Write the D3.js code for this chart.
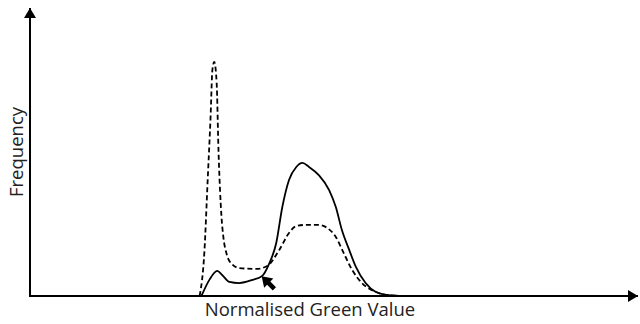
<!DOCTYPE html>
<html>
<head>
<meta charset="utf-8">
<script src="https://cdn.jsdelivr.net/npm/d3@7"></script>
<style>
  body { margin: 0; background: #fff; }
  text { font-family: "Open Sans", sans-serif; fill: #222; }
</style>
</head>
<body>
<div id="chart"></div>
<script>
// normalised green value (0..1) and frequency (0..1)
var dashedX = [0.279, 0.287, 0.292, 0.297, 0.300, 0.303, 0.307, 0.310, 0.315, 0.318, 0.323, 0.331, 0.344, 0.372, 0.390, 0.410, 0.426, 0.438, 0.454, 0.475, 0.489, 0.503, 0.516, 0.530, 0.546, 0.569, 0.590, 0.615];
var dashedY = [0, 0.160, 0.392, 0.622, 0.785, 0.813, 0.740, 0.507, 0.274, 0.205, 0.149, 0.113, 0.097, 0.094, 0.104, 0.160, 0.219, 0.243, 0.247, 0.247, 0.236, 0.205, 0.149, 0.090, 0.045, 0.014, 0.003, 0];

var solidX = [0.282, 0.295, 0.308, 0.316, 0.328, 0.344, 0.366, 0.382, 0.393, 0.405, 0.415, 0.426, 0.438, 0.448, 0.459, 0.475, 0.492, 0.503, 0.513, 0.525, 0.536, 0.552, 0.569, 0.590, 0.615];
var solidY = [0, 0.056, 0.087, 0.073, 0.049, 0.045, 0.056, 0.070, 0.111, 0.184, 0.309, 0.403, 0.448, 0.462, 0.448, 0.420, 0.368, 0.309, 0.229, 0.160, 0.101, 0.045, 0.014, 0.003, 0];

var arrowAt = { x: 0.381, y: 0.069 };

var xLabel = "Normalised Green Value";
var yLabel = "Frequency";

var svgWidth = 640, svgHeight = 324;
var margin = { top: 8, right: 2, bottom: 28, left: 30 };

var svg = d3.select("#chart").append("svg")
    .attr("width", svgWidth)
    .attr("height", svgHeight);

var x = d3.scaleLinear().domain([0, 1]).range([margin.left, svgWidth - margin.right]);
var y = d3.scaleLinear().domain([0, 1]).range([svgHeight - margin.bottom, margin.top]);

// arrow heads for the axes
var defs = svg.append("defs");
defs.append("marker")
    .attr("id", "head")
    .attr("markerUnits", "userSpaceOnUse")
    .attr("viewBox", "0 0 10 12")
    .attr("refX", 10).attr("refY", 6)
    .attr("markerWidth", 10).attr("markerHeight", 12)
    .attr("orient", "auto")
    .append("path")
    .attr("d", "M0,0L10,6L0,12Z")
    .attr("fill", "#000");

svg.append("line")
    .attr("x1", x(0)).attr("y1", y(0))
    .attr("x2", x(1)).attr("y2", y(0))
    .attr("stroke", "#000").attr("stroke-width", 2)
    .attr("marker-end", "url(#head)");

svg.append("line")
    .attr("x1", x(0)).attr("y1", y(0) + 1)
    .attr("x2", x(0)).attr("y2", y(1))
    .attr("stroke", "#000").attr("stroke-width", 2)
    .attr("marker-end", "url(#head)");

var line = d3.line()
    .x(function(d) { return x(d[0]); })
    .y(function(d) { return y(d[1]); })
    .curve(d3.curveMonotoneX);

svg.append("path")
    .datum(d3.zip(dashedX, dashedY))
    .attr("d", line)
    .attr("fill", "none")
    .attr("stroke", "#000")
    .attr("stroke-width", 1.8)
    .attr("stroke-dasharray", "5,3");

svg.append("path")
    .datum(d3.zip(solidX, solidY))
    .attr("d", line)
    .attr("fill", "none")
    .attr("stroke", "#000")
    .attr("stroke-width", 1.8);

// little block arrow pointing at the solid curve
svg.append("path")
    .attr("d", "M0,0L10,-6.5L10,-2.3L18,-2.3L18,2.3L10,2.3L10,6.5Z")
    .attr("transform", "translate(" + x(arrowAt.x) + "," + y(arrowAt.y) + ") rotate(45)")
    .attr("fill", "#000");

svg.append("text")
    .attr("x", 310)
    .attr("y", 316)
    .attr("text-anchor", "middle")
    .attr("font-size", 18.5)
    .text(xLabel);

svg.append("text")
    .attr("transform", "translate(23,152) rotate(-90)")
    .attr("text-anchor", "middle")
    .attr("font-size", 18.5)
    .text(yLabel);
</script>
</body>
</html>
